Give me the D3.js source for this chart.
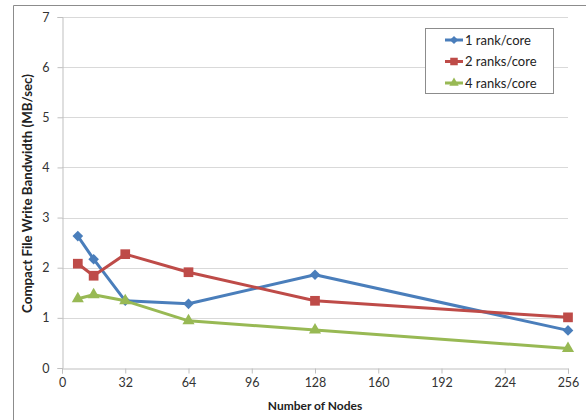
<!DOCTYPE html>
<html>
<head>
<meta charset="utf-8">
<script src="https://cdn.jsdelivr.net/npm/d3@7"></script>
<style>
  html, body { margin: 0; padding: 0; background: #fff; }
  svg { display: block; font-family: "Lato", "Open Sans", sans-serif; }
</style>
</head>
<body>
<svg id="chart" width="586" height="420"></svg>
<script>
// Node counts on the x axis
const nodes = [8, 16, 32, 64, 128, 256];
// Compact file write bandwidth (MB/sec) per ranks-per-core setting
const oneRank   = [2.63, 2.17, 1.34, 1.28, 1.86, 0.75];
const twoRanks  = [2.08, 1.84, 2.27, 1.91, 1.34, 1.01];
const fourRanks = [1.38, 1.46, 1.34, 0.94, 0.76, 0.39];
const seriesNames = ["1 rank/core", "2 ranks/core", "4 ranks/core"];
const xTicks = [0, 32, 64, 96, 128, 160, 192, 224, 256];
const yTicks = [0, 1, 2, 3, 4, 5, 6, 7];

const series = [
  { name: seriesNames[0], values: oneRank,   color: "#4a7ebb", symbol: d3.symbolDiamond2,  size: 72 },
  { name: seriesNames[1], values: twoRanks,  color: "#be4b48", symbol: d3.symbolSquare2,   size: 120 },
  { name: seriesNames[2], values: fourRanks, color: "#98b954", symbol: d3.symbolTriangle2, size: 105 }
];

const svg = d3.select("#chart");

// outer chart frame
svg.append("path")
  .attr("d", "M13.5,420 V5.5 H586")
  .attr("fill", "none").attr("stroke", "#8c8c8c").attr("stroke-width", 1);

const x = d3.scaleLinear().domain([0, 256]).range([62, 568]);
const y = d3.scaleLinear().domain([0, 7]).range([368, 17]);

// horizontal gridlines
svg.append("g").selectAll("line").data(yTicks.filter(v => v > 0)).join("line")
  .attr("x1", x(0)).attr("x2", x(256))
  .attr("y1", d => Math.round(y(d)) + 0.5).attr("y2", d => Math.round(y(d)) + 0.5)
  .attr("stroke", "#d9d9d9").attr("stroke-width", 1);

// axes
const xAxis = d3.axisBottom(x).tickValues(xTicks).tickSize(5).tickPadding(5).tickFormat(d3.format("d"));
const gx = svg.append("g").attr("transform", `translate(0,${Math.round(y(0)) + 0.5})`).call(xAxis);
const yAxis = d3.axisLeft(y).tickValues(yTicks).tickSize(5).tickPadding(8).tickFormat(d3.format("d"));
const gy = svg.append("g").attr("transform", `translate(${Math.round(x(0)) + 0.5},0)`).call(yAxis);

[gx, gy].forEach(g => {
  g.select(".domain").attr("stroke", "#bfbfbf");
  g.selectAll(".tick line").attr("stroke", "#bfbfbf");
  g.selectAll(".tick text").attr("fill", "#333").style("font-size", "12.5px")
    .style("font-family", "Lato, 'Open Sans', sans-serif");
});

// axis titles
svg.append("text")
  .attr("x", 315).attr("y", 410)
  .attr("text-anchor", "middle")
  .style("font-size", "12px").style("font-weight", "bold").attr("fill", "#222")
  .text("Number of Nodes");

svg.append("text")
  .attr("transform", `translate(32,${y(3.5) + 1}) rotate(-90)`)
  .attr("text-anchor", "middle")
  .style("font-size", "13.3px").style("font-weight", "bold").attr("fill", "#222")
  .text("Compact File Write Bandwidth (MB/sec)");

// series lines and markers
const line = d3.line().x((d, i) => x(nodes[i])).y(d => y(d));
series.forEach(s => {
  svg.append("path")
    .datum(s.values)
    .attr("d", line)
    .attr("fill", "none").attr("stroke", s.color)
    .attr("stroke-width", 3).attr("stroke-linejoin", "round");
  svg.append("g").selectAll("path").data(s.values).join("path")
    .attr("transform", (d, i) => `translate(${x(nodes[i])},${y(d)})`)
    .attr("d", d3.symbol().type(s.symbol).size(s.size))
    .attr("fill", s.color);
});

// legend
const lg = svg.append("g");
lg.append("rect")
  .attr("x", 425.5).attr("y", 28.5).attr("width", 128).attr("height", 65)
  .attr("fill", "#fff").attr("stroke", "#8c8c8c");
series.forEach((s, i) => {
  const cy = 40 + i * 21.5;
  lg.append("line").attr("x1", 445).attr("x2", 463).attr("y1", cy).attr("y2", cy)
    .attr("stroke", s.color).attr("stroke-width", 3);
  lg.append("path")
    .attr("transform", `translate(454,${cy})`)
    .attr("d", d3.symbol().type(s.symbol).size(s.size * 0.6))
    .attr("fill", s.color);
  lg.append("text").attr("x", 465).attr("y", cy + 4.5)
    .style("font-size", "13px").attr("fill", "#222")
    .text(s.name);
});
</script>
</body>
</html>
